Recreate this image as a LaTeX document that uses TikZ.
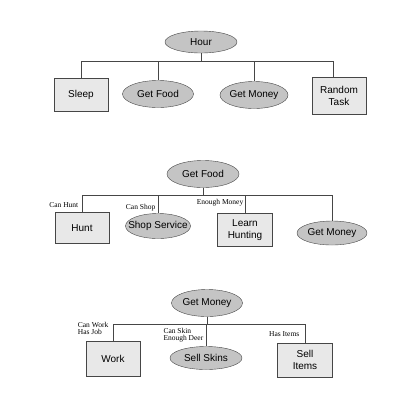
\documentclass[tikz,border=0pt]{standalone}
\usepackage{fontspec}
\setmainfont{Liberation Serif}
\setsansfont{Liberation Sans}
\usetikzlibrary{shapes.geometric}

\definecolor{linegray}{RGB}{70,70,70}
\definecolor{boxgray}{RGB}{232,232,232}
\definecolor{ovalgray}{RGB}{196,196,196}

\tikzset{
    box/.style={draw=linegray, fill=boxgray, minimum width=54pt, minimum height=33pt,
        inner sep=0pt, align=center, font=\sffamily\fontsize{10}{12}\selectfont},
    oval/.style={ellipse, draw=linegray, fill=ovalgray, minimum width=71pt, minimum height=27pt,
        inner xsep=-10pt, inner ysep=0pt, font=\sffamily\fontsize{10}{12}\selectfont},
    cond/.style={anchor=east, align=left, inner sep=0.5pt, font=\fontsize{7.5}{7.2}\selectfont},
    link/.style={draw=linegray, line width=0.7pt},
}

\begin{document}
\begin{tikzpicture}[x=1pt, y=1pt]
    \useasboundingbox (0,0) rectangle (415,-408);

    % Hour tree
    \node[oval, minimum width=72pt, minimum height=22pt] (hour) at (201,-42) {Hour};
    \node[box] (sleep) at (81,-95) {Sleep};
    \node[oval] (hfood) at (158,-94) {Get Food};
    \node[oval, minimum width=68pt] (hmoney) at (254,-95) {Get Money};
    \node[box, minimum height=37pt] (task) at (339,-96) {Random\\Task};
    \foreach \kid in {sleep, hfood, hmoney}
        \draw[link] (hour.south) -- ++(0,-8) -| (\kid.north);
    \draw[link] (hour.south) -- ++(0,-8) -| ([xshift=-6pt]task.north);

    % Get Food tree
    \node[oval, minimum width=72pt] (food) at (203,-174) {Get Food};
    \node[box, minimum height=31pt] (hunt) at (82,-228) {Hunt};
    \node[oval, minimum width=65pt, minimum height=25pt] (shop) at (158,-226) {Shop Service};
    \node[box, minimum width=55pt] (learn) at (245,-230) {Learn\\Hunting};
    \node[oval, minimum width=70pt, minimum height=24pt] (fmoney) at (332,-233) {Get Money};
    \foreach \kid in {hunt, shop, learn, fmoney}
        \draw[link] (food.south) -- ++(0,-8) -| (\kid.north);
    \node[cond] (canhunt) at (79,-205) {Can Hunt};
    \node[cond] (canshop) at (156,-208) {Can Shop};
    \node[cond] (enoughmoney) at (244,-203) {Enough Money};

    % Get Money tree
    \node[oval] (money) at (207,-303) {Get Money};
    \node[box, minimum height=35pt] (work) at (113,-359) {Work};
    \node[oval, minimum width=72pt, minimum height=23pt] (skins) at (206,-358) {Sell Skins};
    \node[box, minimum width=55pt, minimum height=34pt] (items) at (305,-360) {Sell\\Items};
    \foreach \kid in {work, skins, items}
        \draw[link] (money.south) -- ++(0,-8) -| (\kid.north);
    \node[cond] (canwork) at (109,-328.5) {Can Work\\Has Job};
    \node[cond] (canskin) at (204,-335) {Can Skin\\Enough Deer};
    \node[cond] (hasitems) at (300,-334) {Has Items};
\end{tikzpicture}
\end{document}
